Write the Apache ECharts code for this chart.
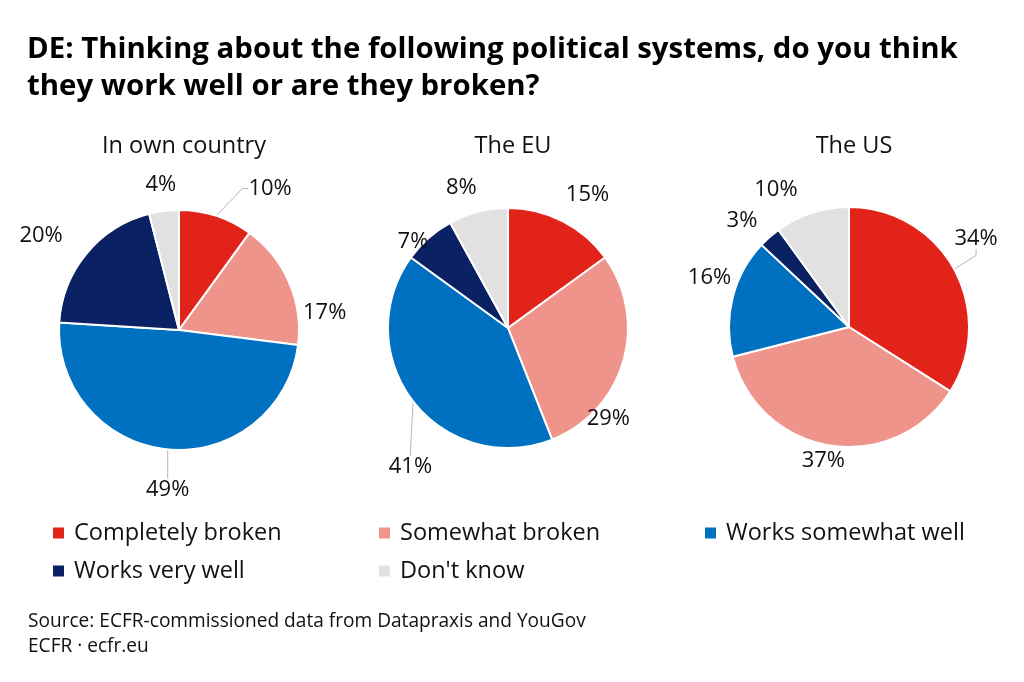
<!DOCTYPE html>
<html><head><meta charset="utf-8">
<script src="https://cdn.jsdelivr.net/npm/echarts@6/dist/echarts.min.js"></script>
<style>html,body{margin:0;padding:0;background:#fff}#c{width:1024px;height:682px}</style>
</head><body><div id="c"></div>
<script>
const categories = ["Completely broken", "Somewhat broken", "Works somewhat well", "Works very well", "Don't know"];
const panels = ["In own country", "The EU", "The US"];
const ownCountry = [10, 17, 49, 20, 4];
const theEU = [15, 29, 41, 7, 8];
const theUS = [34, 37, 16, 3, 10];
const colors = ["#e2231a", "#ef948a", "#0070c0", "#0a2263", "#e1e1e1"];

const FONT = "'Open Sans', 'DejaVu Sans', sans-serif";
const chart = echarts.init(document.getElementById('c'));
const centers = [[179, 330], [508, 328], [849, 327]];
const values = [ownCountry, theEU, theUS];
// which labels keep a leader line, and nudges of the library-placed labels
const showLine = [[1, 0, 1, 0, 0], [0, 0, 1, 0, 0], [1, 0, 0, 0, 0]];
const nudge = [
  [[17, -14], [-10, 36], [34, 26], [-2, -9], [25, -12]],
  [[-14, -14], [-61, 53], [41, 57], [20, 14], [13, -10]],
  [[-23, -24], [28, 1], [23, -16], [8, -6], [1, -10]]
];

const series = values.map((vals, i) => ({
  type: 'pie',
  center: centers[i],
  radius: 120,
  startAngle: 90,
  clockwise: true,
  animation: false,
  itemStyle: { borderColor: '#fff', borderWidth: 2 },
  label: { show: true, formatter: '{c}%', fontFamily: FONT, fontSize: 22, color: '#111', overflow: 'none' },
  labelLine: { show: true, length: 14, length2: 6, lineStyle: { color: '#b5b5b5', width: 1 } },
  labelLayout: function (p) {
    const n = nudge[i][p.dataIndex];
    const r = p.labelRect;
    return {
      x: r.x + r.width / 2 + n[0],
      y: r.y + r.height / 2 + n[1],
      align: 'center', verticalAlign: 'middle'
    };
  },
  emphasis: { disabled: true },
  data: vals.map((v, j) => ({
    name: categories[j], value: v, itemStyle: { color: colors[j] },
    labelLine: { show: !!showLine[i][j] }
  }))
}));

const titles = [
  { text: 'DE: Thinking about the following political systems, do you think\nthey work well or are they broken?', left: 22, top: 26,
    textStyle: { fontFamily: FONT, fontWeight: 'bold', fontSize: 29.4, lineHeight: 37, color: '#000' } }
].concat(panels.map((p, i) => ({
  text: p, left: centers[i][0], top: 129, textAlign: 'center',
  textStyle: { fontFamily: FONT, fontWeight: 'normal', fontSize: 23.5, color: '#111' }
}))).concat([{
  text: 'Source: ECFR-commissioned data from Datapraxis and YouGov\nECFR · ecfr.eu', left: 23, top: 604,
  textStyle: { fontFamily: FONT, fontWeight: 'normal', fontSize: 19.1, lineHeight: 25, color: '#111' }
}]);

const legendCols = [46, 372, 698];
const legendRows = [[categories.slice(0, 3), 516], [categories.slice(3), 554]];
const legends = legendRows.flatMap(row => row[0].map((name, k) => ({
  data: [name], left: legendCols[k], top: row[1], orient: 'horizontal',
  icon: 'rect', itemWidth: 13, itemHeight: 13, itemGap: 6,
  textStyle: { fontFamily: FONT, fontSize: 23.5, color: '#111', padding: [0, 0, 0, 4] },
  selectedMode: false
})));

chart.setOption({
  animation: false,
  title: titles,
  legend: legends,
  series: series
});
</script></body></html>
